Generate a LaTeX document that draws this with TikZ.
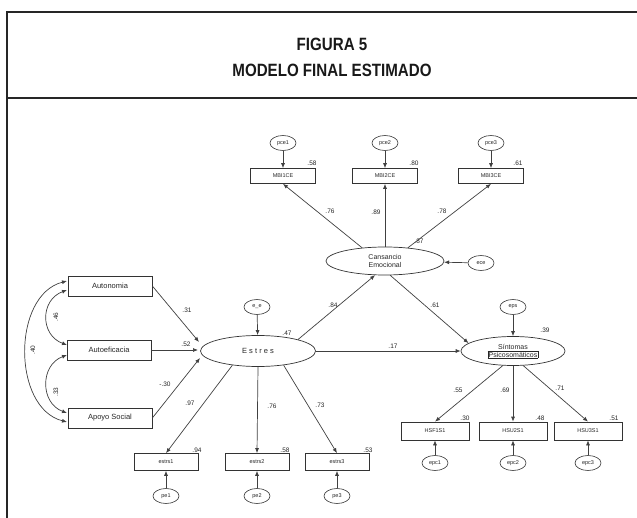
\documentclass[tikz,border=0pt]{standalone}
\usepackage{fontspec}
\setmainfont{Liberation Sans}
\newfontfamily\titlefont[FakeStretch=0.85]{Liberation Sans}
\usetikzlibrary{shapes.geometric,arrows.meta}
\begin{document}
\begin{tikzpicture}[x=1pt,y=-1pt,
  frameline/.style={line width=2pt, black!85},
  obs/.style={draw, line width=0.7pt, black!80, text=black!85, minimum width=65pt, minimum height=15pt, inner sep=0pt, font=\fontsize{5.5}{6}\selectfont},
  pred/.style={obs, minimum width=84pt, minimum height=20pt, font=\fontsize{7.5}{8}\selectfont},
  lat/.style={draw, ellipse, line width=0.7pt, black!80, text=black!85, inner sep=0pt, align=center, font=\fontsize{7}{8}\selectfont},
  err/.style={draw, ellipse, line width=0.6pt, black!80, text=black!85, minimum width=26pt, minimum height=15pt, inner sep=0pt, font=\fontsize{5.5}{6}\selectfont},
  pth/.style={line width=0.7pt, black!75, -{Latex[length=5pt,width=4pt]}},
  cov/.style={line width=0.7pt, black!75, {Latex[length=5pt,width=4pt]}-{Latex[length=5pt,width=4pt]}},
  coef/.style={font=\fontsize{6.5}{7}\selectfont, inner sep=1pt, text=black!85},
  ttl/.style={font=\titlefont\bfseries\fontsize{17.8}{20}\selectfont, text=black!90}
]
\useasboundingbox (0,0) rectangle (637,518);
% frame
\draw[frameline] (7,520) -- (7,12) -- (640,12);
\draw[frameline] (7,98) -- (640,98);
\node[ttl] (t1) at (332,44) {FIGURA 5};
\node[ttl] (t2) at (332,70) {MODELO FINAL ESTIMADO};

% top indicators (Cansancio Emocional)
\node[err] (pce1) at (283,143) {pce1};
\node[err] (pce2) at (385,143) {pce2};
\node[err] (pce3) at (491,143) {pce3};
\node[obs] (i1) at (283,176) {MBI1CE};
\node[obs] (i2) at (385,176) {MBI2CE};
\node[obs] (i3) at (491,176) {MBI3CE};
\node[coef] at (312,163) {.58};
\node[coef] at (414,163) {.80};
\node[coef] at (518,163) {.61};

\node[lat, minimum width=118pt, minimum height=28pt] (C) at (385,261) {Cansancio\\Emocional};
\node[err] (ece) at (481,263) {ece};
\node[coef] at (419,241) {.87};

% Estres
\node[lat, minimum width=115pt, minimum height=31pt, font=\fontsize{7.5}{8}\selectfont] (E) at (258,351) {E s t r e s};
\node[err] (ee) at (257,307) {e\_e};
\node[coef] at (287,333) {.47};

% predictors
\node[pred] (A) at (110,286) {Autonomia};
\node[pred] (B) at (109,350) {Autoeficacia};
\node[pred] (D) at (110,418) {Apoyo Social};
\coordinate (Ea) at (199,342);
\coordinate (Eb) at (198,350);
\coordinate (Ec) at (200,358);

% estres indicators
\node[obs, minimum width=64pt, minimum height=17pt] (e1) at (166,462) {estrs1};
\node[obs, minimum width=64pt, minimum height=17pt] (e2) at (257,462) {estrs2};
\node[obs, minimum width=64pt, minimum height=17pt] (e3) at (337,462) {estrs3};
\node[err] (pe1) at (166,496) {pe1};
\node[err] (pe2) at (257,496) {pe2};
\node[err] (pe3) at (337,496) {pe3};
\node[coef] at (197,450) {.94};
\node[coef] at (285,450) {.58};
\node[coef] at (368,450) {.53};

% Sintomas
\node[lat, minimum width=104pt, minimum height=29pt] (S) at (513,351) {S\'intomas\\{\setlength\fboxsep{0.6pt}\fbox{Psicosom\'aticos}}};
\node[err] (eps) at (513,307) {eps};
\node[coef] at (545,330) {.39};
\node[obs, minimum width=68pt, minimum height=18pt] (h1) at (435,431) {HSF1S1};
\node[obs, minimum width=68pt, minimum height=18pt] (h2) at (513,431) {HSU2S1};
\node[obs, minimum width=68pt, minimum height=18pt] (h3) at (588,431) {HSU3S1};
\node[err] (epc1) at (435,463) {epc1};
\node[err] (epc2) at (513,463) {epc2};
\node[err] (epc3) at (588,463) {epc3};
\node[coef] at (465,418) {.30};
\node[coef] at (540,418) {.48};
\node[coef] at (614,418) {.51};

% paths
\draw[pth] (pce1) -- (i1);
\draw[pth] (pce2) -- (i2);
\draw[pth] (pce3) -- (i3);
\draw[pth] (C.150) -- (i1.south);
\draw[pth] (C.north) -- (i2.south);
\draw[pth] (C.30) -- (i3.south);
\node[coef] at (330,211) {.76};
\node[coef] at (376,212) {.89};
\node[coef] at (442,211) {.78};
\draw[pth] (ece) -- (C);

\draw[pth] (ee) -- (E);
\draw[pth] (A.east) -- (Ea);
\draw[pth] (B.east) -- (Eb);
\draw[pth] (D.east) -- (Ec);
\node[coef] at (187,310) {.31};
\node[coef] at (186,344) {.52};
\node[coef] at (165,384) {-.30};

\draw[pth] (E.209) -- (e1.north);
\draw[pth] (E.south) -- (e2.north);
\draw[pth] (E.331) -- (e3.north);
\node[coef] at (190,403) {.97};
\node[coef] at (272,406) {.76};
\node[coef] at (320,405) {.73};
\draw[pth] (pe1) -- (e1);
\draw[pth] (pe2) -- (e2);
\draw[pth] (pe3) -- (e3);

\draw[pth] (E.16) -- (C.235);
\node[coef] at (333,305) {.84};
\draw[pth] (C.290) -- (S.170);
\node[coef] at (435,305) {.61};
\draw[pth] (E.east) -- (S.west);
\node[coef] at (393,346) {.17};
\draw[pth] (eps) -- (S);

\draw[pth] (S.235) -- (h1.north);
\draw[pth] (S.south) -- (h2.north);
\draw[pth] (S.305) -- (h3.north);
\node[coef] at (458,390) {.55};
\node[coef] at (505,390) {.69};
\node[coef] at (560,388) {.71};
\draw[pth] (epc1) -- (h1);
\draw[pth] (epc2) -- (h2);
\draw[pth] (epc3) -- (h3);

% covariances
\coordinate (a1) at (67,281);
\coordinate (a2) at (67,290);
\coordinate (b1) at (67,345);
\coordinate (b2) at (67,355);
\coordinate (c1) at (67,413);
\coordinate (c2) at (67,422);
\draw[cov] (a2) .. controls (40,300) and (40,335) .. (b1);
\draw[cov] (b2) .. controls (40,365) and (40,403) .. (c1);
\draw[cov] (a1) .. controls (12,295) and (12,408) .. (c2);
\node[coef, rotate=90] at (56,317) {.46};
\node[coef, rotate=90] at (56,392) {.33};
\node[coef, rotate=90] at (33,350) {.40};
\end{tikzpicture}
\end{document}
